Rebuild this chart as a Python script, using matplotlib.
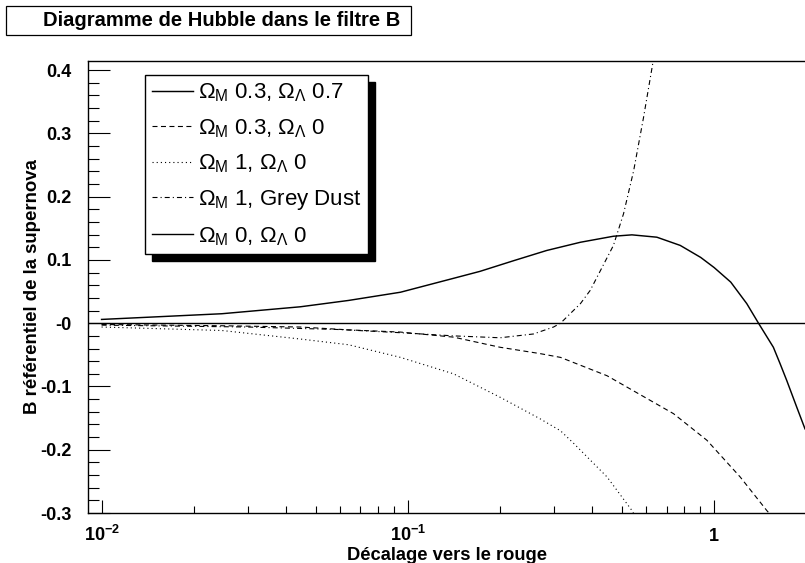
import matplotlib
matplotlib.use("Agg")
import matplotlib.pyplot as plt
from matplotlib.patches import Rectangle
from matplotlib.ticker import FixedLocator, FixedFormatter, MultipleLocator, LogLocator, NullFormatter

plt.rcParams['font.family'] = ['Liberation Sans', 'DejaVu Sans']
plt.rcParams['mathtext.fontset'] = 'custom'
plt.rcParams['mathtext.rm'] = 'Liberation Sans'
plt.rcParams['mathtext.it'] = 'Liberation Sans:italic'
plt.rcParams['mathtext.bf'] = 'Liberation Sans:bold'
plt.rcParams['lines.scale_dashes'] = False

# ---- data ----
title = "Diagramme de Hubble dans le filtre B"
xlabel = "Décalage vers le rouge"
ylabel = "B référentiel de la supernova"

labels = [r"$\Omega_{\mathrm{M}}$ 0.3, $\Omega_{\Lambda}$ 0.7",
          r"$\Omega_{\mathrm{M}}$ 0.3, $\Omega_{\Lambda}$ 0",
          r"$\Omega_{\mathrm{M}}$ 1, $\Omega_{\Lambda}$ 0",
          r"$\Omega_{\mathrm{M}}$ 1, Grey Dust",
          r"$\Omega_{\mathrm{M}}$ 0, $\Omega_{\Lambda}$ 0"]

z_lcdm = [0.01, 0.0247, 0.0446, 0.064, 0.0946, 0.141, 0.172, 0.222, 0.284, 0.366,
          0.469, 0.539, 0.65, 0.775, 0.904, 1.0, 1.133, 1.278, 1.396, 1.561,
          1.642, 1.726, 1.862, 1.98]
m_lcdm = [0.006, 0.015, 0.026, 0.036, 0.049, 0.071, 0.082, 0.099, 0.115, 0.128,
          0.1375, 0.1397, 0.136, 0.123, 0.104, 0.088, 0.065, 0.031, 0.0, -0.038,
          -0.064, -0.0905, -0.133, -0.167]

z_open = [0.01, 0.0247, 0.0446, 0.064, 0.0946, 0.141, 0.2, 0.27, 0.315, 0.447,
          0.737, 0.947, 1.216, 1.485, 1.51]
m_open = [-0.002, -0.004, -0.006, -0.0105, -0.014, -0.022, -0.038, -0.048, -0.054, -0.083,
          -0.143, -0.185, -0.243, -0.296, -0.30]

z_eds = [0.01, 0.0247, 0.0446, 0.064, 0.0946, 0.141, 0.2, 0.27, 0.315, 0.348,
         0.447, 0.539, 0.545]
m_eds = [-0.006, -0.0115, -0.025, -0.034, -0.054, -0.080, -0.117, -0.151, -0.170, -0.19,
         -0.243, -0.296, -0.30]

z_dust = [0.01, 0.03, 0.06, 0.0946, 0.141, 0.2, 0.257, 0.299, 0.315, 0.366,
          0.394, 0.469, 0.506, 0.546, 0.588, 0.627, 0.635]
m_dust = [-0.003, -0.006, -0.010, -0.015, -0.020, -0.023, -0.017, -0.006, 0.0, 0.031,
          0.052, 0.123, 0.173, 0.241, 0.325, 0.404, 0.42]

z_empty = [0.00903, 1.98]
m_empty = [0.0, 0.0]

xticks = [0.01, 0.1, 1.0]
xtick_labels = [r"$\mathbf{10^{-2}}$", r"$\mathbf{10^{-1}}$", r"$\mathbf{1}$"]
yticks = [-0.3, -0.2, -0.1, 0.0, 0.1, 0.2, 0.3, 0.4]
ytick_labels = ["-0.3", "-0.2", "-0.1", "-0", "0.1", "0.2", "0.3", "0.4"]

# ---- figure ----
W, H = 805, 563
fig = plt.figure(figsize=(W / 100, H / 100), dpi=100)
ax = fig.add_axes([88 / W, 50 / H, (W - 88) / W, (513 - 60.7) / H])

l1, = ax.plot(z_lcdm, m_lcdm, color='k', lw=1.05, ls='-')
l2, = ax.plot(z_open, m_open, color='k', lw=0.8, ls=(0, (3.6, 2.5)))
l3, = ax.plot(z_eds, m_eds, color='k', lw=0.8, ls=(0, (0.8, 2.2)))
l4, = ax.plot(z_dust, m_dust, color='k', lw=0.8, ls=(0, (3.6, 2.2, 0.8, 2.2)))
l5, = ax.plot(z_empty, m_empty, color='k', lw=1.0, ls='-')

ax.set_xscale('log')
ax.set_xlim(0.00903, 1.98)
ax.set_ylim(-0.3, 0.415)

ax.xaxis.set_major_locator(FixedLocator(xticks))
ax.xaxis.set_major_formatter(FixedFormatter(xtick_labels))
ax.xaxis.set_minor_locator(LogLocator(base=10, subs=[2, 3, 4, 5, 6, 7, 8, 9]))
ax.xaxis.set_minor_formatter(NullFormatter())
ax.yaxis.set_major_locator(FixedLocator(yticks))
ax.yaxis.set_major_formatter(FixedFormatter(ytick_labels))
ax.yaxis.set_minor_locator(MultipleLocator(0.02))

ax.tick_params(axis='x', which='major', direction='in', length=9.4, width=0.8,
               labelsize=13, pad=20.5, top=False)
ax.tick_params(axis='x', which='minor', direction='in', length=4.9, width=0.8, top=False)
ax.tick_params(axis='y', which='major', direction='in', length=15.8, width=0.8,
               labelsize=13, pad=12, right=False)
ax.tick_params(axis='y', which='minor', direction='in', length=7.9, width=0.8, right=False)
for lb in ax.get_xticklabels():
    lb.set_fontweight('bold')
    lb.set_va('baseline')
for lb in ax.get_yticklabels():
    lb.set_fontweight('bold')

for s in ['left', 'bottom', 'top']:
    ax.spines[s].set_linewidth(1.0)
ax.spines['right'].set_visible(False)

ax.set_xlabel(xlabel, fontsize=13.2, fontweight='bold')
ax.xaxis.set_label_coords(0.5, -(555 - 513) / (513 - 60.7))
ax.xaxis.label.set_va('center')
ax.set_ylabel(ylabel, fontsize=13.4, fontweight='bold')
ax.yaxis.set_label_coords(-(88 - 41) / (W - 88), 0.5)

# title box
fig.add_artist(Rectangle((5.5 / W, 1 - 35 / H), (411 - 5.5) / W, 29 / H,
                         transform=fig.transFigure, fill=False, ec='k', lw=0.9))
fig.text(43 / W, 1 - 21 / H, title, fontsize=14.5, fontweight='bold', ha='left', va='center')

leg = ax.legend([l1, l2, l3, l4, l5], labels, loc='upper left',
                bbox_to_anchor=(145 / W, 1 - 75 / H), bbox_transform=fig.transFigure,
                borderaxespad=0, fontsize=16, handlelength=1.85, handletextpad=0.23,
                borderpad=0.3, labelspacing=0.58, fancybox=False, framealpha=1,
                edgecolor='k')
leg.get_frame().set_linewidth(1.0)

fig.canvas.draw()
bb = leg.get_window_extent()
off = 7
p0 = fig.transFigure.inverted().transform((bb.x0 + off, bb.y0 - off))
p1 = fig.transFigure.inverted().transform((bb.x1 + off, bb.y1 - off))
ax.add_artist(Rectangle(p0, p1[0] - p0[0], p1[1] - p0[1], transform=fig.transFigure,
                        color='k', zorder=4.9, clip_on=False))

fig.savefig("out.png", dpi=100)
